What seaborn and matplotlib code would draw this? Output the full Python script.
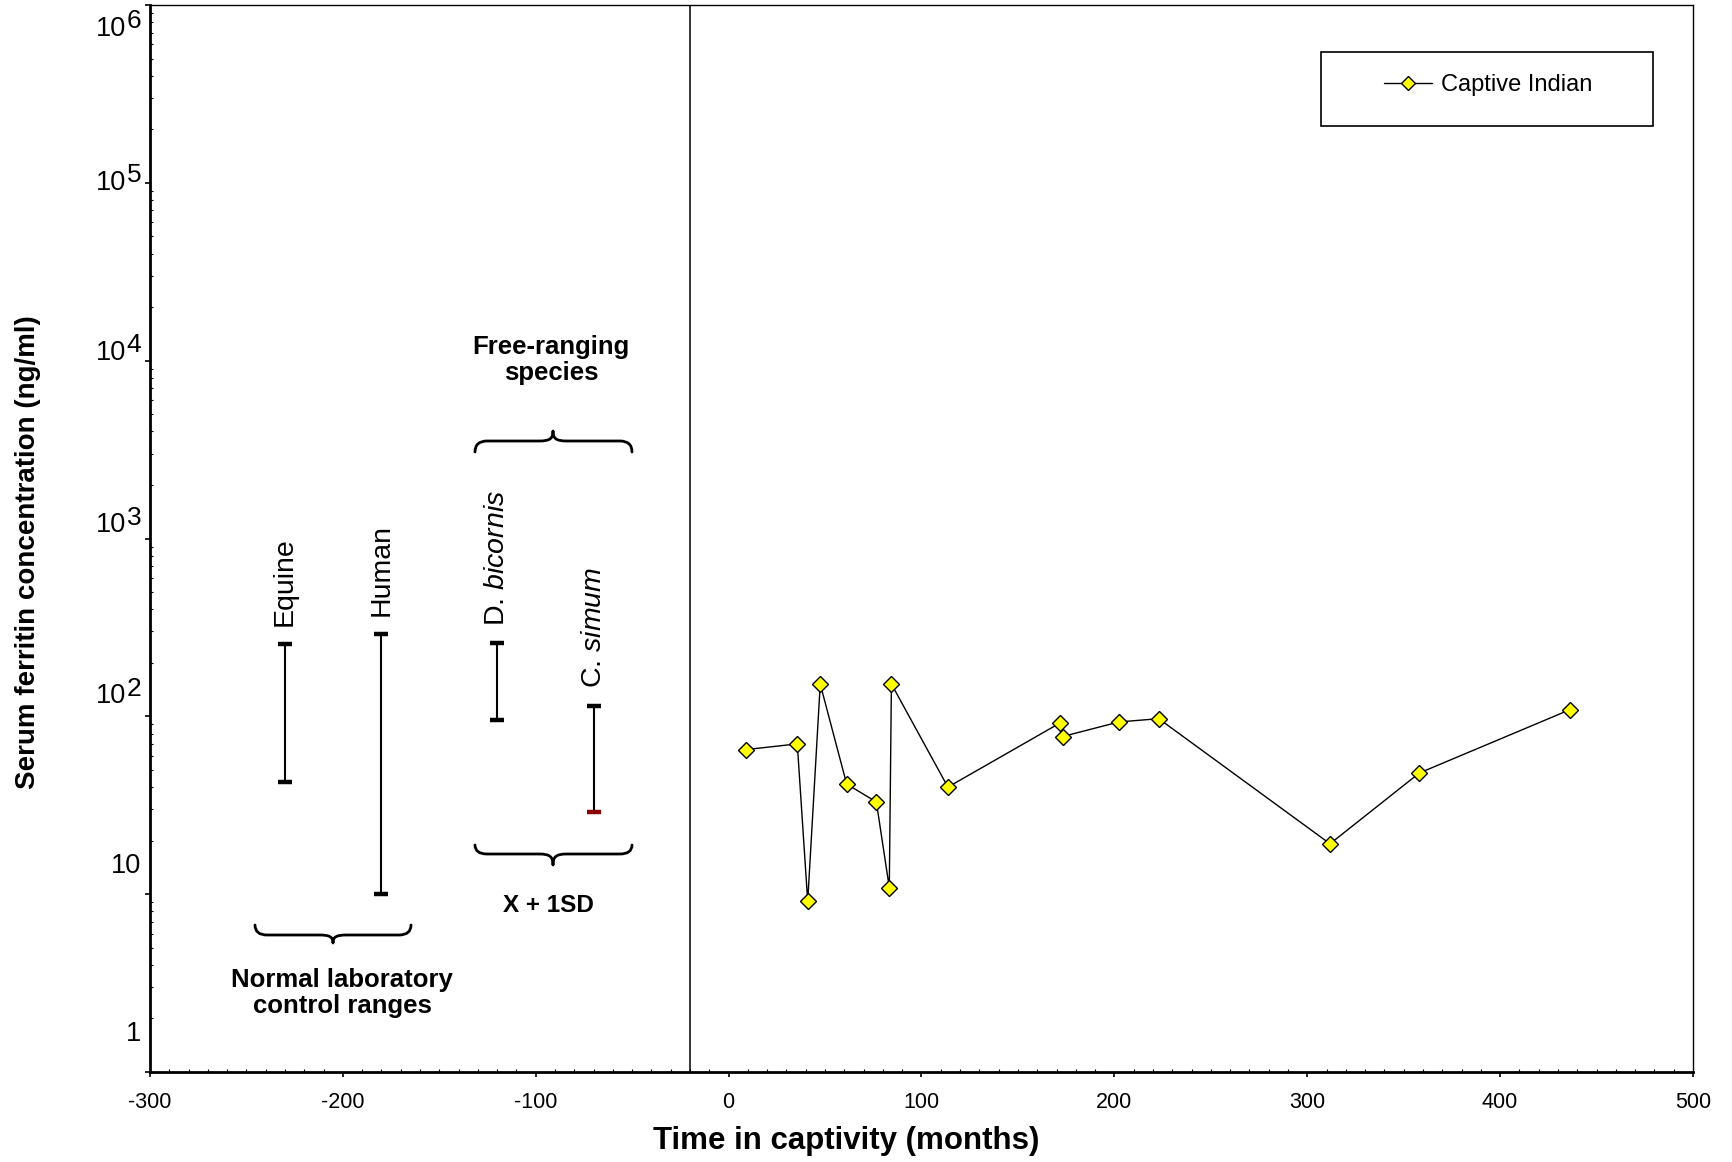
import numpy as np
import pandas as pd
import matplotlib
matplotlib.use("Agg")
import matplotlib.pyplot as plt
import matplotlib.transforms as mtransforms
from matplotlib.patches import Rectangle, PathPatch
from matplotlib.path import Path
from matplotlib.ticker import MultipleLocator, LogLocator, NullFormatter
import seaborn as sns

# ---------------- data ----------------
months = [9.0, 35.6, 41.0, 47.5, 61.2, 76.6, 83.3, 84.4, 113.7, 172.0, 173.2,
          202.4, 223.0, 311.8, 358.1, 436.2]
ferritin = [65, 70, 9.1, 152, 41.6, 33, 10.9, 152, 40, 92, 77, 93, 97, 19.2, 48, 109]
series_name = "Captive Indian"

range_labels = ["Equine", "Human", "D. $\\mathit{bicornis}$", "C. $\\mathit{simum}$"]
range_x = [-230, -180, -120, -70]
range_low = [43, 10, 95, 29]
range_high = [254, 292, 257, 114]

captivity_start = -20

xticks = [-300, -200, -100, 0, 100, 200, 300, 400, 500]
ytick_exponents = [0, 1, 2, 3, 4, 5, 6]
ytick_base = ["1", "10", "10", "10", "10", "10", "10"]
ytick_sup = ["", "", "2", "3", "4", "5", "6"]

# ---------------- style ----------------
sns.set_theme(style="white")
plt.rcParams["font.family"] = ["Liberation Sans", "DejaVu Sans"]
plt.rcParams["mathtext.fontset"] = "custom"
plt.rcParams["mathtext.rm"] = "Liberation Sans"
plt.rcParams["mathtext.it"] = "Liberation Sans:italic"
plt.rcParams["mathtext.bf"] = "Liberation Sans:bold"
for k in ["text.color", "axes.labelcolor", "xtick.color", "ytick.color", "axes.edgecolor"]:
    plt.rcParams[k] = "black"

W, H = 1733, 1162
fig = plt.figure(figsize=(W / 100, H / 100), dpi=100)
fig.patch.set_facecolor("white")
ax = fig.add_axes([150 / W, 1 - 1072 / H, 1543 / W, (1072 - 5) / H])
ax.set_facecolor("white")

# pixel transform (origin top-left of figure) for annotations
px = mtransforms.Affine2D().scale(1 / W, -1 / H).translate(0, 1) + fig.transFigure

df = pd.DataFrame({"months": months, "ferritin": ferritin})
sns.lineplot(data=df, x="months", y="ferritin", ax=ax, color="black", lw=1.0,
             marker="D", markersize=8.3, markerfacecolor="#FFFF00",
             markeredgecolor="black", markeredgewidth=1.0, sort=False,
             estimator=None, label=series_name)

ax.set_yscale("log")
ax.set_xlim(-300, 500)
ax.set_ylim(1, 1e6)

ax.axvline(captivity_start, color="black", lw=1.1, zorder=1)

# range bars
for lbl, x, lo, hi in zip(range_labels, range_x, range_low, range_high):
    eb = ax.errorbar([x], [lo], yerr=[[0], [hi - lo]], fmt="none", ecolor="black",
                     elinewidth=1.5, capsize=5.2, capthick=3.2, zorder=3)
    if "simum" in lbl:
        for cl in eb[1]:
            if abs(cl.get_ydata()[0] - lo) < 1e-9:
                cl.set_color("#8B0000")
                cl.set_markeredgecolor("#8B0000")
                cl.set_markerfacecolor("#8B0000")
    ax.text(x, hi * 1.26, lbl, rotation=90, ha="center", va="bottom", fontsize=20.5)

# braces
def brace(xl, xr, xm, ye, yf, yt, lw=2.0):
    a = 12
    b = 14
    verts = [(xl, ye), (xl, yf), (xl + a, yf),
             (xm - b, yf),
             (xm - 3, yf), (xm, yf + (yt - yf) * 0.25), (xm, yt),
             (xm, yf + (yt - yf) * 0.25), (xm + 3, yf), (xm + b, yf),
             (xr - a, yf),
             (xr, yf), (xr, ye)]
    codes = [Path.MOVETO, Path.CURVE3, Path.CURVE3,
             Path.LINETO,
             Path.CURVE4, Path.CURVE4, Path.CURVE4,
             Path.CURVE4, Path.CURVE4, Path.CURVE4,
             Path.LINETO,
             Path.CURVE3, Path.CURVE3]
    p = PathPatch(Path(verts, codes), transform=px, fill=False, ec="black",
                  lw=lw, capstyle="round", joinstyle="round")
    fig.add_artist(p)

brace(475, 632, 553, 452, 441, 431)
brace(475, 632, 553, 845, 854, 865)
brace(255, 411, 333, 925, 935, 943)

fig.text(551, 360, "Free-ranging\nspecies", transform=px, ha="center", va="center",
         fontsize=18.5, fontweight="bold", linespacing=1.15)
fig.text(548, 905, "X + 1SD", transform=px, ha="center", va="center",
         fontsize=17.5, fontweight="bold")
fig.text(342, 993, "Normal laboratory\ncontrol ranges", transform=px, ha="center",
         va="center", fontsize=18.5, fontweight="bold", linespacing=1.12)

# ticks
ax.set_xticks(xticks)
ax.set_xticklabels([str(t) for t in xticks])
ax.xaxis.set_minor_locator(MultipleLocator(10))
ax.set_yticks([10.0 ** e for e in ytick_exponents])
ax.set_yticklabels(ytick_base)
ax.yaxis.set_minor_locator(LogLocator(base=10, subs=np.arange(2, 10), numticks=20))
ax.yaxis.set_minor_formatter(NullFormatter())
ax.tick_params(which="major", direction="out", length=3.6, width=1.2, color="black")
ax.tick_params(which="minor", direction="in", length=2.2, width=0.8, color="black")
ax.tick_params(axis="x", which="major", labelsize=15.5, pad=11)
ax.tick_params(axis="y", which="major", labelsize=19.5, pad=2.5)
ax.tick_params(which="both", bottom=True, left=True, top=False, right=False)

# vertical shift (px, up) of tick label digits relative to their ticks, as in the original
label_dy = [41, 31, 23, 16, 11, 3, -21]
sup_dx = -15  # base "10" moved left to leave room for the exponent
for lab, dy, sup, e in zip(ax.get_yticklabels(), label_dy, ytick_sup, ytick_exponents):
    dx = sup_dx if sup else 0
    lab.set_transform(lab.get_transform() +
                      mtransforms.ScaledTranslation(dx / 100, dy / 100, fig.dpi_scale_trans))
    if sup:
        tr = ax.get_yaxis_transform() + mtransforms.ScaledTranslation(
            -23.5 / 100, (dy + 7) / 100, fig.dpi_scale_trans)
        ax.text(0, 10.0 ** e, sup, transform=tr, ha="left", va="center_baseline",
                fontsize=19, clip_on=False)

for side in ["left", "bottom"]:
    ax.spines[side].set_linewidth(2.0)
    ax.spines[side].set_color("black")
for side in ["top", "right"]:
    ax.spines[side].set_linewidth(1.0)
    ax.spines[side].set_color("black")

ax.set_xlabel("Time in captivity (months)", fontsize=22.5, fontweight="bold", va="center")
ax.xaxis.set_label_coords((846 - 150) / 1543, (1072 - 1141.5) / 1067)
ax.set_ylabel("Serum ferritin concentration (ng/ml)", fontsize=20, fontweight="bold",
              va="center")
ax.yaxis.set_label_coords((27.6 - 150) / 1543, (1072 - 552) / 1067)

# legend
leg = ax.legend(loc="center", bbox_to_anchor=(1488.5 / W, 1 - 85 / H),
                bbox_transform=fig.transFigure, frameon=False, fontsize=17,
                handlelength=2.0, handletextpad=0.4, borderpad=0, markerscale=0.8)
fig.add_artist(Rectangle((1321, 125.5), 332, -74, transform=px, fill=False,
                         ec="black", lw=1.2))

fig.savefig("out.png", dpi=100, facecolor="white")
